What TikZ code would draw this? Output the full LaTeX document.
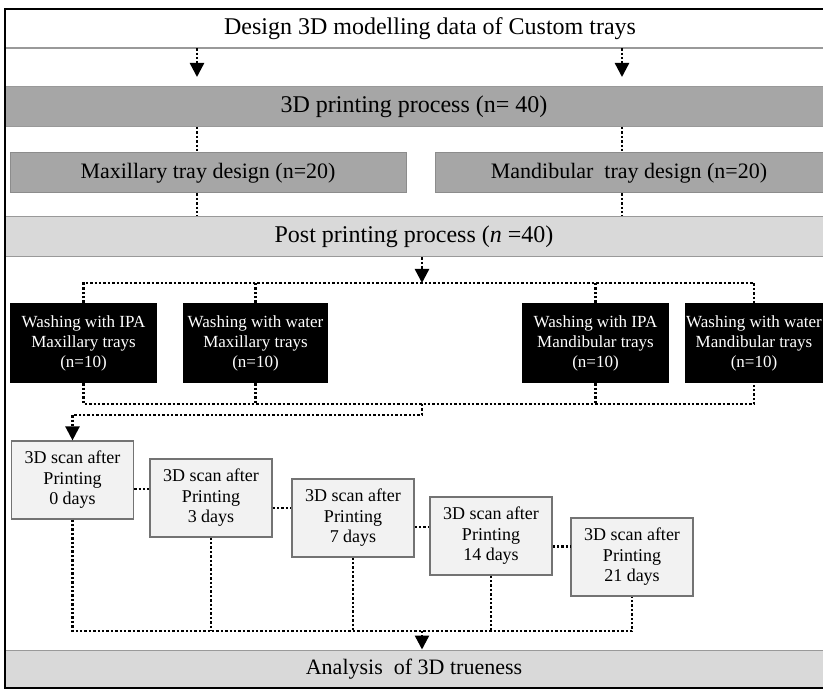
\documentclass[tikz,border=0pt]{standalone}
\usepackage{fontspec}
\setmainfont{Liberation Serif}
\usetikzlibrary{arrows.meta, positioning, calc}

\begin{document}
\begin{tikzpicture}[
    x=1pt, y=-1pt,
    band/.style={
      draw=black!40, line width=1pt,
      minimum width=818pt, minimum height=40pt,
      inner sep=0pt, font=\fontsize{24}{28}\selectfont},
    darkband/.style={band, fill=black!35},
    lightband/.style={band, fill=black!15},
    design/.style={
      draw=black!45, line width=1pt, fill=black!35,
      minimum height=40pt, inner sep=0pt,
      font=\fontsize{22}{26}\selectfont},
    wash/.style={
      fill=black, text=white,
      minimum height=80pt, inner sep=0pt, align=center,
      font=\fontsize{17}{20}\selectfont},
    scan/.style={
      draw=black!55, line width=1.2pt, fill=black!5,
      minimum width=122pt, minimum height=78pt,
      inner sep=0pt, align=center,
      font=\fontsize{18}{20.5}\selectfont},
    dots/.style={line width=2.4pt, dash pattern=on 2.4pt off 2pt},
    arr/.style={dots, -{Triangle[width=14pt, length=14pt]}},
]
\useasboundingbox (0,0) rectangle (823,690);

% ---- printing stage ----
\node[minimum height=39pt, inner sep=0pt, font=\fontsize{24}{28}\selectfont]
  (title) at (430,28.5) {Design 3D modelling data of Custom trays};
\draw[black!40, line width=1.5pt] (5,48) -- (823,48);

\node[darkband]  (print) at (414,106.5) {3D printing process (n= 40)};
\node[design, minimum width=396pt] (maxd) at (208,173) {Maxillary tray design (n=20)};
\node[design, minimum width=388pt] (mand) at (629,173) {Mandibular\ \ tray design (n=20)};
\node[lightband] (post)  at (414,237) {Post printing process (\textit{n} =40)};

\coordinate (colL) at (197,0);
\coordinate (colR) at (622,0);

\draw[arr, shorten >=9pt] (title.south -| colL) -- (print.north -| colL);
\draw[arr, shorten >=9pt] (title.south -| colR) -- (print.north -| colR);
\draw[dots] (print.south -| colL) -- (maxd.north -| colL);
\draw[dots] (print.south -| colR) -- (mand.north -| colR);
\draw[dots] (maxd.south -| colL) -- (post.north -| colL);
\draw[dots] (mand.south -| colR) -- (post.north -| colR);

% ---- washing groups ----
\node[wash, minimum width=147pt] (w1) at (83.5,343)
  {Washing with IPA\\Maxillary trays\\(n=10)};
\node[wash, minimum width=145pt] (w2) at (255.5,343)
  {Washing with water\\Maxillary trays\\(n=10)};
\node[wash, minimum width=147pt] (w3) at (595.5,343)
  {Washing with IPA\\Mandibular trays\\(n=10)};
\node[wash, minimum width=138pt] (w4) at (754,343)
  {Washing with water\\Mandibular trays\\(n=10)};

\coordinate (split) at (422,283);
\coordinate (merge) at (422,404);
\coordinate (turn)  at (422,415);

\draw[arr] (post.south -| split) -- (split);
\draw[dots] (w1.north) -- (w1.north |- split) -- (w4.north |- split) -- (w4.north);
\draw[dots] (w2.north) -- (w2.north |- split);
\draw[dots] (w3.north) -- (w3.north |- split);

\draw[dots] (w1.south) -- (w1.south |- merge) -- (w4.south |- merge) -- (w4.south);
\draw[dots] (w2.south) -- (w2.south |- merge);
\draw[dots] (w3.south) -- (w3.south |- merge);

% ---- 3D scans over time ----
\node[scan] (s1) at (72.5,480) {3D scan after\\Printing\\0 days};
\node[scan] (s2) at (211,498)  {3D scan after\\Printing\\3 days};
\node[scan] (s3) at (353,518)  {3D scan after\\Printing\\7 days};
\node[scan] (s4) at (491,536)  {3D scan after\\Printing\\14 days};
\node[scan] (s5) at (632,557)  {3D scan after\\Printing\\21 days};

\draw[arr] (merge) -- (turn) -| (s1.north);

\coordinate (m1) at ($(s1.east)!.5!(s2.west)$);
\coordinate (m2) at ($(s2.east)!.5!(s3.west)$);
\coordinate (m3) at ($(s3.east)!.5!(s4.west)$);
\coordinate (m4) at ($(s4.east)!.5!(s5.west)$);
\draw[dots] (s1.east |- m1) -- (s2.west |- m1);
\draw[dots] (s2.east |- m2) -- (s3.west |- m2);
\draw[dots] (s3.east |- m3) -- (s4.west |- m3);
\draw[dots] (s4.east |- m4) -- (s5.west |- m4);

% ---- analysis ----
\node[lightband, minimum height=38pt, font=\fontsize{22}{26}\selectfont]
  (result) at (414,669) {Analysis\ \ of 3D trueness};

\coordinate (join) at (422,631);
\draw[dots] (s1.south) -- (s1.south |- join) -- (s5.south |- join) -- (s5.south);
\draw[dots] (s2.south) -- (s2.south |- join);
\draw[dots] (s3.south) -- (s3.south |- join);
\draw[dots] (s4.south) -- (s4.south |- join);
\draw[arr] (join) -- (result.north -| join);

% ---- outer frame ----
\draw[line width=2.5pt] (823,9) -- (5,9) -- (5,688) -- (823,688);

\end{tikzpicture}
\end{document}
